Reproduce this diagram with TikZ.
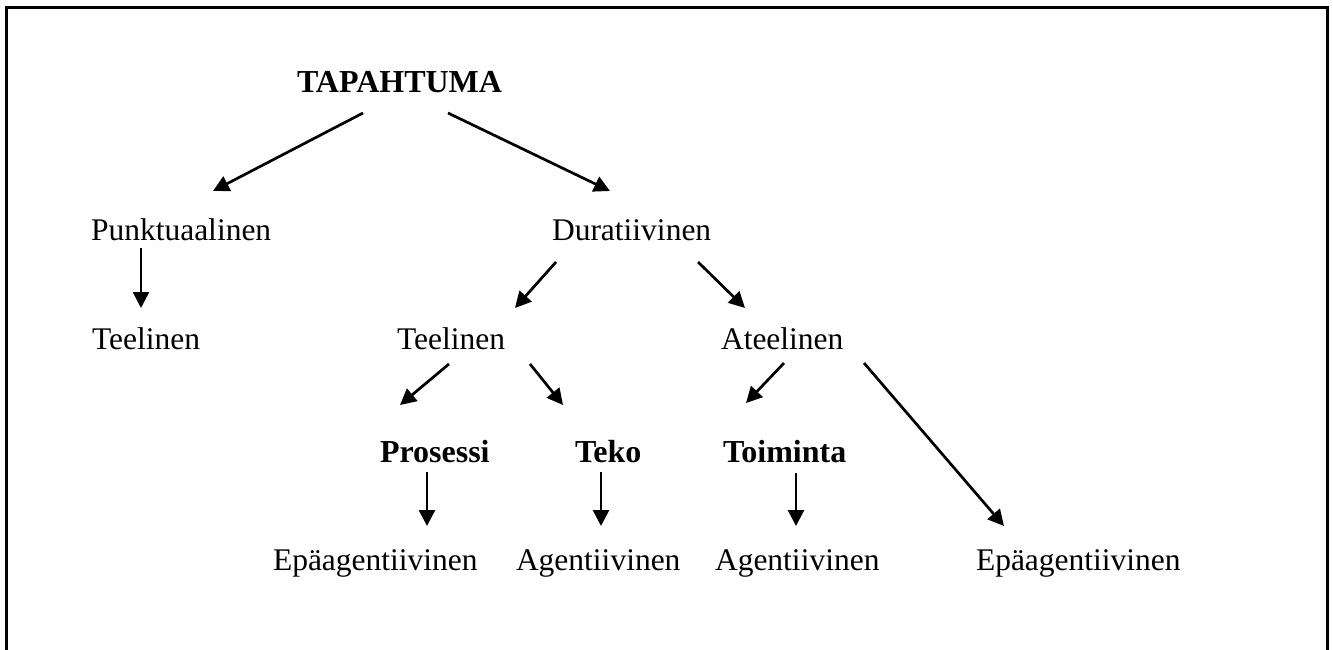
\documentclass[tikz,border=0pt]{standalone}
\usepackage{fontspec}
\setmainfont{Liberation Serif}
\usetikzlibrary{arrows.meta}
\tikzset{
  lbl/.style={anchor=base west, inner sep=0pt, outer sep=0pt, font=\fontsize{31.5}{36}\selectfont},
  blbl/.style={lbl, font=\fontsize{32}{36}\selectfont\bfseries},
  arr/.style={line width=2.7pt, -{Triangle[length=16pt,width=16pt]}},
  frame/.style={line width=3pt}
}
\begin{document}
\begin{tikzpicture}[x=1pt,y=-1pt]
\useasboundingbox (0,0) rectangle (1333,650);
\draw[frame] (6.5,8) rectangle (1327,665);
\node[blbl] (tap) at (297,93) {TAPAHTUMA};
\node[lbl] (punk) at (91,240) {Punktuaalinen};
\node[lbl] (dur) at (552,240) {Duratiivinen};
\node[lbl] (tee1) at (92,349) {Teelinen};
\node[lbl] (tee2) at (397,349) {Teelinen};
\node[lbl] (ate) at (721,349) {Ateelinen};
\node[blbl] (pro) at (380,462) {Prosessi};
\node[blbl] (teko) at (575,462) {Teko};
\node[blbl] (toi) at (723,462) {Toiminta};
\node[lbl] (epa1) at (273,570) {Epäagentiivinen};
\node[lbl] (ag2) at (516,570) {Agentiivinen};
\node[lbl] (ag3) at (715,570) {Agentiivinen};
\node[lbl] (epa4) at (976,570) {Epäagentiivinen};
\draw[arr] ([shift={(66,20)}]tap.base west) -- ([shift={(122,-49)}]punk.base west);
\draw[arr] ([shift={(151,20)}]tap.base west) -- ([shift={(58,-49)}]dur.base west);
\draw[arr] ([shift={(50,8)}]punk.base west) -- ([shift={(49,-41)}]tee1.base west);
\draw[arr] ([shift={(4,22)}]dur.base west) -- ([shift={(118,-41)}]tee2.base west);
\draw[arr] ([shift={(146,22)}]dur.base west) -- ([shift={(24,-41)}]ate.base west);
\draw[arr] ([shift={(52,15)}]tee2.base west) -- ([shift={(20,-57)}]pro.base west);
\draw[arr] ([shift={(133,15)}]tee2.base west) -- ([shift={(-12,-57)}]teko.base west);
\draw[arr] ([shift={(63,14)}]ate.base west) -- ([shift={(23,-59)}]toi.base west);
\draw[arr] ([shift={(143,14)}]ate.base west) -- ([shift={(28,-44)}]epa4.base west);
\draw[arr] ([shift={(47,10)}]pro.base west) -- ([shift={(47,-44)}]pro.base west |- epa1.base west);
\draw[arr] ([shift={(26,10)}]teko.base west) -- ([shift={(26,-44)}]teko.base west |- ag2.base west);
\draw[arr] ([shift={(73,11)}]toi.base west) -- ([shift={(73,-44)}]toi.base west |- ag3.base west);
\end{tikzpicture}
\end{document}
